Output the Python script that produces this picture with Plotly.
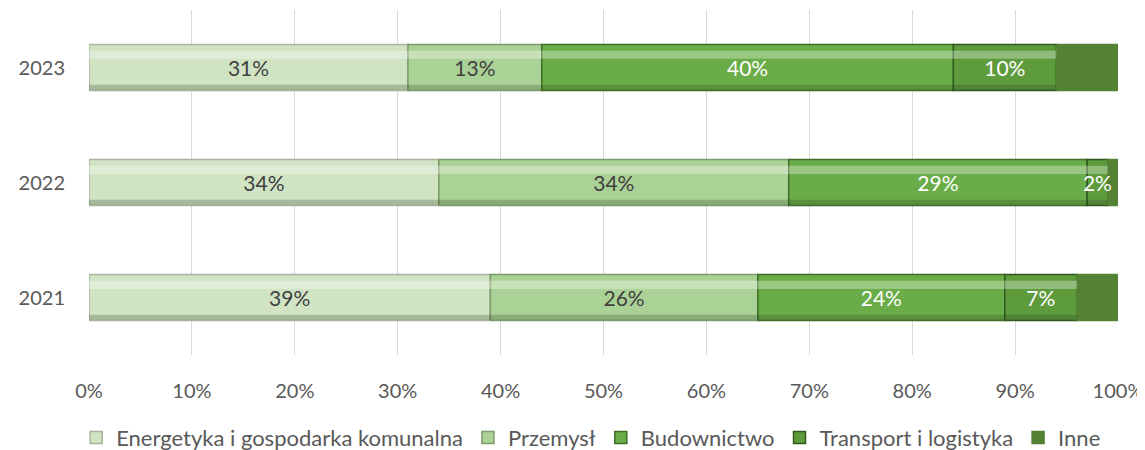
import numpy as np
import plotly.graph_objects as go

years = ["2021", "2022", "2023"]
series_names = ["Energetyka i gospodarka komunalna", "Przemysł", "Budownictwo",
                "Transport i logistyka", "Inne"]
values = {
    "Energetyka i gospodarka komunalna": [39, 34, 31],
    "Przemysł": [26, 34, 13],
    "Budownictwo": [24, 29, 40],
    "Transport i logistyka": [7, 2, 10],
    "Inne": [4, 1, 6],
}
show_label = {
    "Energetyka i gospodarka komunalna": True,
    "Przemysł": True,
    "Budownictwo": True,
    "Transport i logistyka": True,
    "Inne": False,
}
tick_vals = [0, 10, 20, 30, 40, 50, 60, 70, 80, 90, 100]
tick_text = [f"{v}%" for v in tick_vals]

colors = ["#d0e4c4", "#abd296", "#6aad48", "#5e9b3c", "#548235"]
line_colors = ["#a6b39e", "#7d9a6b", "#3f6e27", "#2f5a1d", "#548235"]
text_colors = ["#404040", "#404040", "#ffffff", "#ffffff", "#ffffff"]
bevel = [True, True, True, True, False]

FONT = "Lato"
BAR_W = 0.4

# cumulative bases
vals_arr = np.array([values[n] for n in series_names], dtype=float)
bases = np.vstack([np.zeros(len(years)), np.cumsum(vals_arr, axis=0)[:-1]])

fig = go.Figure()
# main bars
for i, name in enumerate(series_names):
    vals = values[name]
    fig.add_trace(go.Bar(
        y=years, x=vals, base=bases[i], name=name, orientation="h",
        marker=dict(color=colors[i], line=dict(color=line_colors[i], width=1.5)),
        width=BAR_W,
        hoverinfo="skip",
    ))

# bevel-like highlight and shadow bands
for i, name in enumerate(series_names):
    if not bevel[i]:
        continue
    vals = values[name]
    fig.add_trace(go.Bar(
        y=years, x=vals, base=bases[i], orientation="h", showlegend=False,
        offset=0.075, width=0.07,
        marker=dict(color="rgba(255,255,255,0.32)", line=dict(width=0)),
        hoverinfo="skip",
    ))
    fig.add_trace(go.Bar(
        y=years, x=vals, base=bases[i], orientation="h", showlegend=False,
        offset=-0.195, width=0.045,
        marker=dict(color="rgba(40,60,30,0.25)", line=dict(width=0)),
        hoverinfo="skip",
    ))

# value labels on top of everything
for i, name in enumerate(series_names):
    if not show_label[name]:
        continue
    vals = values[name]
    fig.add_trace(go.Bar(
        y=years, x=vals, base=bases[i], orientation="h", showlegend=False,
        marker=dict(color="rgba(0,0,0,0)", line=dict(width=0)),
        text=[f"{v}%" for v in vals],
        textposition="inside",
        insidetextanchor="middle",
        textangle=0,
        constraintext="none",
        cliponaxis=False,
        textfont=dict(color=text_colors[i], size=21, family=FONT),
        width=BAR_W,
        hoverinfo="skip",
    ))

fig.update_layout(
    barmode="overlay",
    width=1137, height=442,
    margin=dict(l=81, r=27, t=2, b=95, autoexpand=False),
    paper_bgcolor="white", plot_bgcolor="white",
    font=dict(family=FONT, size=20, color="#595959"),
    uniformtext=dict(minsize=21, mode="show"),
    xaxis=dict(range=[0, 100], tickvals=tick_vals, ticktext=tick_text,
               showgrid=True, gridcolor="#d9d9d9", gridwidth=1,
               zeroline=False, showline=False, ticks="", automargin=False,
               tickfont=dict(size=20, color="#595959"), ticklabelstandoff=22),
    yaxis=dict(range=[-0.5, 2.5], showgrid=False, zeroline=False, ticks="",
               automargin=False,
               tickfont=dict(size=20, color="#595959"), ticklabelstandoff=23),
    legend=dict(orientation="h", x=0.488, xanchor="center", y=-0.24, yanchor="middle",
                font=dict(size=22, color="#595959"), traceorder="normal",
                itemwidth=30),
    showlegend=True,
)
fig.write_html("out.html")
